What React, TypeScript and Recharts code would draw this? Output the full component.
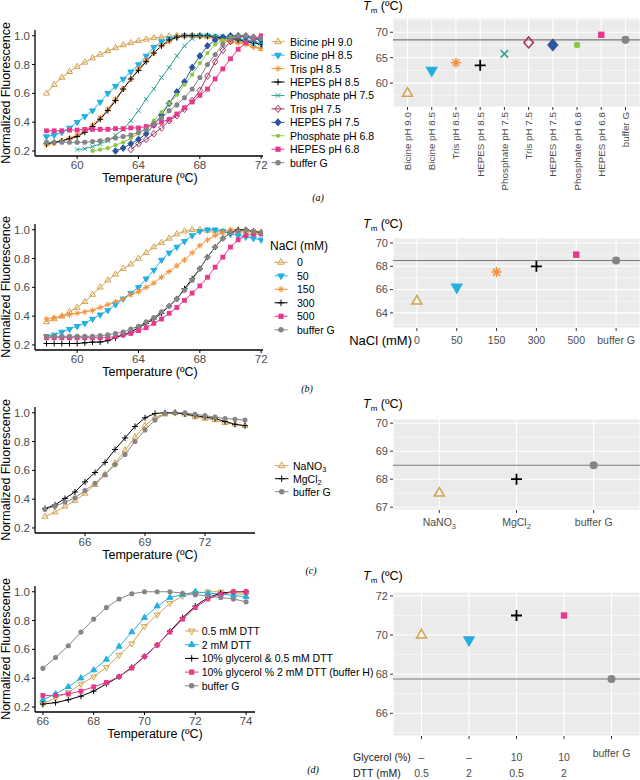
import {
  LineChart,
  Line,
  ScatterChart,
  Scatter,
  XAxis,
  YAxis,
  CartesianGrid,
  ReferenceLine,
  Legend,
} from 'recharts';

const FONT = '"Liberation Sans", Arial, Helvetica, sans-serif';
const INK = '#4D4D4D';

const TAN = '#D3A24E';
const CYAN = '#25AFE2';
const ORANGE = '#F5903B';
const BLACK = '#000000';
const TEAL = '#2EA597';
const MAROON = '#A3305F';
const BLUE = '#2A55A0';
const GREEN = '#8DC63F';
const PINK = '#E8378C';
const GREY = '#858585';

// ---- (a) buffer / pH screen ----
const tempsA = [58, 58.5, 59, 59.5, 60, 60.5, 61, 61.5, 62, 62.5, 63, 63.5, 64, 64.5, 65, 65.5, 66, 66.5, 67, 67.5, 68, 68.5, 69, 69.5, 70, 70.5, 71, 71.5, 72];
const namesA = ['Bicine pH 9.0', 'Bicine pH 8.5', 'Tris pH 8.5', 'HEPES pH 8.5', 'Phosphate pH 7.5', 'Tris pH 7.5', 'HEPES pH 7.5', 'Phosphate pH 6.8', 'HEPES pH 6.8', 'buffer G'];
const bicine90 = [0.6, 0.66, 0.71, 0.75, 0.785, 0.815, 0.845, 0.87, 0.895, 0.915, 0.935, 0.95, 0.965, 0.975, 0.985, 0.99, 0.995, 1.0, 1.0, 1.0, 1.0, 0.995, 0.99, 0.98, 0.97, 0.96, 0.95, 0.93, 0.91];
const bicine85 = [0.3, 0.31, 0.33, 0.36, 0.4, 0.44, 0.48, 0.54, 0.6, 0.65, 0.7, 0.75, 0.8, 0.86, 0.92, 0.96, 0.98, 0.99, 1.0, 1.0, 1.0, 1.0, 0.99, 0.985, 0.98, 0.97, 0.96, 0.95, 0.94];
const tris85 = [0.24, 0.255, 0.27, 0.29, 0.31, 0.34, 0.38, 0.43, 0.49, 0.56, 0.63, 0.7, 0.77, 0.83, 0.88, 0.93, 0.96, 0.99, 1.0, 1.0, 0.995, 0.99, 0.98, 0.97, 0.96, 0.95, 0.94, 0.92, 0.91];
const hepes85 = [0.25, 0.26, 0.27, 0.285, 0.3, 0.33, 0.37, 0.42, 0.48, 0.55, 0.63, 0.7, 0.76, 0.82, 0.88, 0.93, 0.97, 0.99, 1.0, 1.0, 1.0, 1.0, 0.99, 0.985, 0.98, 0.97, 0.96, 0.95, 0.94];
// the shorter runs start later and all end at 72
const phos75 = [0.21, 0.215, 0.23, 0.25, 0.27, 0.31, 0.35, 0.41, 0.48, 0.56, 0.63, 0.71, 0.78, 0.86, 0.93, 0.98, 1.0, 1.0, 1.0, 0.995, 0.99, 0.98, 0.97, 0.96, 0.95];
const tris75 = [0.21, 0.25, 0.28, 0.32, 0.36, 0.41, 0.445, 0.49, 0.55, 0.62, 0.72, 0.82, 0.9, 0.96, 0.99, 1.0, 0.99, 0.98];
const hepes75 = [0.2, 0.22, 0.25, 0.28, 0.32, 0.38, 0.45, 0.53, 0.61, 0.68, 0.78, 0.86, 0.93, 0.97, 0.99, 1.0, 1.0, 0.99, 0.98, 0.97];
const phos68 = [0.2, 0.21, 0.22, 0.24, 0.26, 0.29, 0.32, 0.36, 0.41, 0.47, 0.53, 0.59, 0.66, 0.73, 0.81, 0.88, 0.94, 0.97, 0.99, 1.0, 1.0, 0.99, 0.98];
const hepes68 = [0.34, 0.34, 0.34, 0.345, 0.345, 0.35, 0.35, 0.35, 0.35, 0.355, 0.355, 0.36, 0.36, 0.37, 0.38, 0.4, 0.42, 0.457, 0.5, 0.54, 0.586, 0.63, 0.7, 0.77, 0.84, 0.906, 0.95, 0.98, 1.0];
const bufferGA = [0.26, 0.26, 0.26, 0.26, 0.26, 0.26, 0.265, 0.27, 0.28, 0.29, 0.3, 0.31, 0.33, 0.35, 0.39, 0.43, 0.48, 0.52, 0.57, 0.63, 0.71, 0.8, 0.87, 0.94, 0.98, 1.0, 1.0, 0.99, 0.98];
const curvesA = [bicine90, bicine85, tris85, hepes85, phos75, tris75, hepes75, phos68, hepes68, bufferGA];
const tmA = [58, 62.5, 64, 63.5, 65.75, 68, 67.5, 67.5, 69.5, 68.5];
const refA = 68.5;

// ---- (b) NaCl ----
const tempsB = tempsA;
const namesB = ['0', '50', '150', '300', '500', 'buffer G'];
const nacl0 = [0.36, 0.38, 0.4, 0.43, 0.46, 0.5, 0.55, 0.6, 0.65, 0.69, 0.73, 0.76, 0.8, 0.84, 0.88, 0.91, 0.94, 0.97, 0.99, 1.0, 1.0, 0.995, 0.99, 0.99, 0.99, 0.99, 0.99, 0.98, 0.98];
const nacl50 = [0.26, 0.27, 0.29, 0.31, 0.33, 0.35, 0.38, 0.41, 0.44, 0.48, 0.52, 0.56, 0.6, 0.66, 0.72, 0.79, 0.84, 0.88, 0.92, 0.96, 0.99, 1.0, 1.0, 0.99, 0.97, 0.96, 0.95, 0.94, 0.93];
const nacl150 = [0.38, 0.39, 0.4, 0.41, 0.42, 0.43, 0.44, 0.46, 0.48, 0.5, 0.52, 0.55, 0.57, 0.6, 0.63, 0.67, 0.71, 0.75, 0.79, 0.84, 0.89, 0.93, 0.96, 0.98, 1.0, 1.0, 0.99, 0.99, 0.98];
const nacl300 = [0.21, 0.21, 0.21, 0.21, 0.21, 0.215, 0.22, 0.22, 0.23, 0.25, 0.27, 0.29, 0.32, 0.35, 0.38, 0.42, 0.47, 0.52, 0.59, 0.66, 0.73, 0.81, 0.88, 0.94, 0.98, 1.0, 1.0, 0.99, 0.98];
const nacl500 = [0.25, 0.25, 0.25, 0.25, 0.25, 0.25, 0.25, 0.25, 0.25, 0.26, 0.27, 0.28, 0.3, 0.32, 0.35, 0.38, 0.42, 0.46, 0.51, 0.56, 0.61, 0.67, 0.74, 0.81, 0.88, 0.93, 0.96, 0.97, 0.97];
const bufferGB = [0.26, 0.26, 0.26, 0.26, 0.26, 0.26, 0.26, 0.265, 0.27, 0.28, 0.29, 0.31, 0.33, 0.36, 0.39, 0.43, 0.47, 0.52, 0.58, 0.65, 0.73, 0.81, 0.88, 0.94, 0.98, 0.99, 1.0, 0.99, 0.98];
const curvesB = [nacl0, nacl50, nacl150, nacl300, nacl500, bufferGB];
const tmB = [65, 66.2, 67.5, 68, 69, 68.5];
const refB = 68.5;

// ---- (c) anions / cations ----
const tempsC = [64, 64.5, 65, 65.5, 66, 66.5, 67, 67.5, 68, 68.5, 69, 69.5, 70, 70.5, 71, 71.5, 72, 72.5, 73, 73.5, 74];
const namesC = ['NaNO3', 'MgCl2', 'buffer G'];
const nano3 = [0.28, 0.31, 0.35, 0.39, 0.44, 0.5, 0.57, 0.65, 0.74, 0.83, 0.91, 0.97, 0.99, 1.0, 0.99, 0.97, 0.96, 0.95, 0.93, 0.92, 0.91];
const mgcl2 = [0.335, 0.36, 0.405, 0.45, 0.52, 0.585, 0.655, 0.745, 0.825, 0.905, 0.965, 0.995, 1.0, 1.0, 0.99, 0.98, 0.97, 0.96, 0.94, 0.92, 0.91];
const bufferGC = [0.33, 0.35, 0.38, 0.41, 0.46, 0.51, 0.57, 0.64, 0.71, 0.8, 0.88, 0.95, 0.995, 1.0, 1.0, 0.99, 0.98, 0.97, 0.96, 0.955, 0.95];
const curvesC = [nano3, mgcl2, bufferGC];
const tmC = [67.5, 68, 68.5];
const refC = 68.5;

// ---- (d) DTT / glycerol ----
const tempsD = [66, 66.5, 67, 67.5, 68, 68.5, 69, 69.5, 70, 70.5, 71, 71.5, 72, 72.5, 73, 73.5, 74];
const namesD = ['0.5 mM DTT', '2 mM DTT', '10% glycerol & 0.5 mM DTT', '10% glycerol % 2 mM DTT (buffer H)', 'buffer G'];
const dtt05 = [0.22, 0.265, 0.3, 0.36, 0.41, 0.475, 0.56, 0.64, 0.76, 0.84, 0.92, 0.97, 0.99, 1.0, 1.0, 0.99, 0.98];
const dtt2 = [0.25, 0.29, 0.34, 0.4, 0.456, 0.53, 0.62, 0.72, 0.82, 0.9, 0.96, 0.98, 1.0, 0.99, 0.985, 0.975, 0.965];
const gly05 = [0.22, 0.23, 0.25, 0.275, 0.31, 0.36, 0.41, 0.475, 0.55, 0.63, 0.725, 0.82, 0.9, 0.96, 0.99, 1.0, 1.0];
const gly2 = [0.28, 0.28, 0.29, 0.31, 0.34, 0.37, 0.41, 0.47, 0.55, 0.63, 0.72, 0.81, 0.89, 0.95, 0.98, 1.0, 1.0];
const bufferGD = [0.468, 0.543, 0.625, 0.72, 0.81, 0.89, 0.95, 0.986, 1.0, 1.0, 1.0, 0.99, 0.98, 0.97, 0.96, 0.95, 0.93];
const curvesD = [dtt05, dtt2, gly05, gly2, bufferGD];
const tmD = [70, 69.75, 71, 71, 67.75];
const refD = 67.75;
const glycerolRow = ['–', '–', '10', '10'];
const dttRow = ['0.5', '2', '0.5', '2'];

type Shape = 'triUp' | 'triUpOpen' | 'triDown' | 'triDownOpen' | 'asterisk' | 'plus' | 'cross' | 'diamond' | 'diamondOpen' | 'circle' | 'square';
type Look = { color: string; shape: Shape; small?: boolean };

const looksA: Look[] = [
  { color: TAN, shape: 'triUpOpen' },
  { color: CYAN, shape: 'triDown' },
  { color: ORANGE, shape: 'asterisk' },
  { color: BLACK, shape: 'plus' },
  { color: TEAL, shape: 'cross' },
  { color: MAROON, shape: 'diamondOpen' },
  { color: BLUE, shape: 'diamond' },
  { color: GREEN, shape: 'circle', small: true },
  { color: PINK, shape: 'square' },
  { color: GREY, shape: 'circle' },
];
const looksB: Look[] = [
  { color: TAN, shape: 'triUpOpen' },
  { color: CYAN, shape: 'triDown' },
  { color: ORANGE, shape: 'asterisk' },
  { color: BLACK, shape: 'plus' },
  { color: PINK, shape: 'square' },
  { color: GREY, shape: 'circle' },
];
const looksC: Look[] = [
  { color: TAN, shape: 'triUpOpen' },
  { color: BLACK, shape: 'plus' },
  { color: GREY, shape: 'circle' },
];
const looksDCurve: Look[] = [
  { color: TAN, shape: 'triDownOpen' },
  { color: CYAN, shape: 'triUp' },
  { color: BLACK, shape: 'plus' },
  { color: PINK, shape: 'square' },
  { color: GREY, shape: 'circle' },
];
const looksDTm: Look[] = [
  { color: TAN, shape: 'triUpOpen' },
  { color: CYAN, shape: 'triDown' },
  { color: BLACK, shape: 'plus' },
  { color: PINK, shape: 'square' },
  { color: GREY, shape: 'circle' },
];

function Marker({ shape, x, y, size, color, sw }: { shape: Shape; x: number; y: number; size: number; color: string; sw: number }) {
  const h = size / 2;
  switch (shape) {
    case 'triUp':
    case 'triUpOpen': {
      const pts = `${x},${y - h * 1.15} ${x + h},${y + h * 0.58} ${x - h},${y + h * 0.58}`;
      return <polygon points={pts} fill={shape === 'triUp' ? color : 'none'} stroke={color} strokeWidth={sw} />;
    }
    case 'triDown':
    case 'triDownOpen': {
      const pts = `${x},${y + h * 1.15} ${x + h},${y - h * 0.58} ${x - h},${y - h * 0.58}`;
      return <polygon points={pts} fill={shape === 'triDown' ? color : 'none'} stroke={color} strokeWidth={sw} />;
    }
    case 'plus':
      return <path d={`M${x - h},${y}H${x + h}M${x},${y - h}V${y + h}`} stroke={color} strokeWidth={sw} />;
    case 'cross': {
      const d = h * 0.75;
      return <path d={`M${x - d},${y - d}L${x + d},${y + d}M${x - d},${y + d}L${x + d},${y - d}`} stroke={color} strokeWidth={sw} />;
    }
    case 'asterisk': {
      const d = h * 0.7;
      return (
        <path
          d={`M${x - h},${y}H${x + h}M${x},${y - h}V${y + h}M${x - d},${y - d}L${x + d},${y + d}M${x - d},${y + d}L${x + d},${y - d}`}
          stroke={color}
          strokeWidth={sw}
        />
      );
    }
    case 'diamond':
    case 'diamondOpen': {
      const pts = `${x},${y - h * 1.1} ${x + h * 0.95},${y} ${x},${y + h * 1.1} ${x - h * 0.95},${y}`;
      return <polygon points={pts} fill={shape === 'diamond' ? color : 'none'} stroke={color} strokeWidth={sw} />;
    }
    case 'square':
      return <rect x={x - h * 0.8} y={y - h * 0.8} width={h * 1.6} height={h * 1.6} fill={color} />;
    default:
      return <circle cx={x} cy={y} r={h * 0.85} fill={color} />;
  }
}

// label text with chemical subscripts (NaNO3 -> NaNO₃)
const chem = (label: string) =>
  label.split(/(\d)/).filter(Boolean).map((part, i) =>
    /\d/.test(part) ? (
      <tspan key={i} dy={3} fontSize="70%">{part}</tspan>
    ) : (
      <tspan key={i}>{part}</tspan>
    ),
  );

const pairUp = (temps: number[], vals: number[]) =>
  vals.map((v, i) => ({ t: temps[temps.length - vals.length + i], v }));

function KeyBox({ labels, looks, y0, step, x0, x1, mx, tx, title, titleY, subs }: any) {
  return (
    <svg width={200} height={170} style={{ overflow: 'visible', display: 'block' }}>
      {title && (
        <text x={0} y={titleY} fontSize={12} fill="#000">
          {title}
        </text>
      )}
      {labels.map((lab: string, i: number) => {
        const y = y0 + i * step;
        const lk: Look = looks[i];
        return (
          <g key={lab}>
            <line x1={x0} x2={x1} y1={y} y2={y} stroke={lk.color} strokeWidth={1} />
            <Marker shape={lk.shape} x={mx} y={y} size={lk.small ? 5 : 6.5} color={lk.color} sw={1} />
            <text x={tx} y={y} dominantBaseline="central" fontSize={10.5} fill="#000">
              {subs ? chem(lab) : lab}
            </text>
          </g>
        );
      })}
    </svg>
  );
}

function CurveChart({ temps, curves, looks, xDomain, xTicks, plotRight, titleX, keyAt, keyBox }: any) {
  return (
    <LineChart width={330} height={176} margin={{ top: 10, right: 330 - plotRight, bottom: 0, left: 0 }}>
      <XAxis
        type="number"
        dataKey="t"
        domain={xDomain}
        ticks={xTicks}
        allowDataOverflow
        interval={0}
        height={40}
        tickSize={3}
        tick={{ fontSize: 11.5, fill: INK }}
        axisLine={{ stroke: '#000', strokeWidth: 1.3 }}
        tickLine={{ stroke: '#000' }}
        label={() => (
          <text x={titleX} y={162} textAnchor="middle" fontSize={12.5} fill="#000">
            Temperature (ºC)
          </text>
        )}
      />
      <YAxis
        type="number"
        domain={[0.165, 1.04]}
        ticks={[0.2, 0.4, 0.6, 0.8, 1.0]}
        tickFormatter={(v: number) => v.toFixed(1)}
        allowDataOverflow
        interval={0}
        width={35}
        tickSize={3}
        tick={{ fontSize: 11.5, fill: INK }}
        axisLine={{ stroke: '#000', strokeWidth: 1.3 }}
        tickLine={{ stroke: '#000' }}
        label={() => (
          <text transform="translate(6,73) rotate(-90)" textAnchor="middle" dominantBaseline="central" fontSize={12.5} fill="#000">
            Normalized Fluorescence
          </text>
        )}
      />
      {curves.map((vals: number[], k: number) => (
        <Line
          key={k}
          data={pairUp(temps, vals)}
          dataKey="v"
          type="linear"
          stroke={looks[k].color}
          strokeWidth={1}
          activeDot={false}
          isAnimationActive={false}
          dot={(p: any) => (
            <Marker key={`d${k}-${p.index}`} shape={looks[k].shape} x={p.cx} y={p.cy} size={looks[k].small ? 5 : 6} color={looks[k].color} sw={1} />
          )}
        />
      ))}
      <Legend
        layout="vertical"
        align="center"
        verticalAlign="middle"
        wrapperStyle={{ left: keyAt[0], top: keyAt[1], width: 200, height: 170 }}
        content={() => keyBox}
      />
    </LineChart>
  );
}

function TmTitle({ y }: { y: number }) {
  return (
    <text x={33} y={y} fontSize={12.5} fill="#000">
      <tspan fontStyle="italic">T</tspan>
      <tspan fontSize={8} dy={3}>m</tspan>
      <tspan dy={-3}> (ºC)</tspan>
    </text>
  );
}

function TmChart({ cats, tm, looks, line, yDomain, yTicks, minor, height, marginTop, xHeight, tick, titleY, xLabel }: any) {
  const rows = cats.map((name: string, i: number) => ({ name, tm: tm[i] }));
  const pad = (247 * 0.1) / (cats.length + 0.2);
  return (
    <ScatterChart width={310} height={height} margin={{ top: marginTop, right: 0, bottom: 0, left: 0 }}>
      <CartesianGrid fill="#EBEBEB" fillOpacity={1} stroke="#FFFFFF" strokeWidth={1.1} />
      {minor.map((v: number) => (
        <ReferenceLine key={v} y={v} stroke="#FFFFFF" strokeWidth={0.5} />
      ))}
      <ReferenceLine y={line} stroke="#7A7A7A" strokeWidth={1.1} />
      <XAxis
        type="category"
        dataKey="name"
        allowDuplicatedCategory={false}
        padding={{ left: pad, right: pad }}
        height={xHeight}
        interval={0}
        axisLine={false}
        tickLine={{ stroke: '#333' }}
        tickSize={3}
        tick={tick}
        label={xLabel}
      />
      <YAxis
        type="number"
        dataKey="tm"
        domain={yDomain}
        ticks={yTicks}
        allowDataOverflow
        interval={0}
        width={63}
        axisLine={false}
        tickLine={{ stroke: '#333' }}
        tickSize={3}
        tick={{ fontSize: 11, fill: INK }}
        label={() => <TmTitle y={titleY} />}
      />
      <Scatter
        data={rows}
        isAnimationActive={false}
        shape={(p: any) => {
          const lk: Look = looks[cats.indexOf(p.payload.name)];
          const big = lk.shape === 'circle' ? (lk.small ? 7.5 : 9.5) : lk.shape === 'square' ? 8 : lk.shape === 'plus' ? 11 : 10;
          const sw = lk.shape === 'plus' ? 1.8 : 1.5;
          return <Marker shape={lk.shape} x={p.cx} y={p.cy} size={big} color={lk.color} sw={sw} />;
        }}
      />
    </ScatterChart>
  );
}

const rotTick = (p: any) => (
  <text x={p.x} y={p.y} transform={`rotate(-90, ${p.x}, ${p.y})`} textAnchor="end" dominantBaseline="central" fontSize={9.8} fill={INK}>
    {p.payload.value}
  </text>
);

const flatTick = (p: any) => (
  <text x={p.x} y={p.y + 11} textAnchor="middle" fontSize={10.5} fill={INK}>
    {chem(String(p.payload.value))}
  </text>
);

const plainTick = (p: any) => (
  <text x={p.x} y={p.y + 11} textAnchor="middle" fontSize={10.5} fill={INK}>
    {p.payload.value}
  </text>
);

const additiveTick = (p: any) => {
  const i = namesD.indexOf(p.payload.value);
  if (i === namesD.length - 1) {
    return (
      <text x={p.x} y={p.y + 15.5} textAnchor="middle" fontSize={10.5} fill={INK}>
        buffer G
      </text>
    );
  }
  return (
    <g>
      <text x={p.x} y={p.y + 20} textAnchor="middle" fontSize={10.5} fill={INK}>
        {glycerolRow[i]}
      </text>
      <text x={p.x} y={p.y + 36} textAnchor="middle" fontSize={10.5} fill={INK}>
        {dttRow[i]}
      </text>
    </g>
  );
};

function Place({ left, top, children }: any) {
  return <div style={{ position: 'absolute', left, top }}>{children}</div>;
}

function Caption({ x, y, text }: { x: number; y: number; text: string }) {
  return (
    <div
      style={{
        position: 'absolute',
        left: x,
        top: y,
        transform: 'translate(-50%, -50%)',
        fontFamily: '"Liberation Serif", serif',
        fontStyle: 'italic',
        fontSize: 10,
      }}
    >
      {text}
    </div>
  );
}

export default function App() {
  return (
    <div style={{ position: 'absolute', left: 0, top: 0, width: 640, height: 780, background: '#fff', overflow: 'hidden', fontFamily: FONT }}>
      {/* (a) */}
      <Place left={0} top={20}>
        <CurveChart
          temps={tempsA}
          curves={curvesA}
          looks={looksA}
          xDomain={[57.25, 72.12]}
          xTicks={[60, 64, 68, 72]}
          plotRight={263}
          titleX={150}
          keyAt={[265, 14]}
          keyBox={<KeyBox labels={namesA} looks={looksA} y0={7.7} step={13.44} x0={6.5} x1={19.5} mx={13} tx={25} />}
        />
      </Place>
      <Place left={330} top={0}>
        <TmChart
          cats={namesA}
          tm={tmA}
          looks={looksA}
          line={refA}
          yDomain={[55.3, 72.8]}
          yTicks={[60, 65, 70]}
          minor={[57.5, 62.5, 67.5, 72.5]}
          height={195}
          marginTop={18}
          xHeight={88}
          tick={rotTick}
          titleY={10}
        />
      </Place>
      <Caption x={318} y={197} text="(a)" />

      {/* (b) */}
      <Place left={0} top={214}>
        <CurveChart
          temps={tempsB}
          curves={curvesB}
          looks={looksB}
          xDomain={[57.25, 72.12]}
          xTicks={[60, 64, 68, 72]}
          plotRight={263}
          titleX={150}
          keyAt={[270, 22]}
          keyBox={<KeyBox labels={namesB} looks={looksB} title="NaCl (mM)" titleY={14} y0={26.3} step={13.5} x0={4.5} x1={17.5} mx={11} tx={27} />}
        />
      </Place>
      <Place left={330} top={215}>
        <TmChart
          cats={namesB}
          tm={tmB}
          looks={looksB}
          line={refB}
          yDomain={[62.7, 70.43]}
          yTicks={[64, 66, 68, 70]}
          minor={[63, 65, 67, 69]}
          height={148}
          marginTop={23}
          xHeight={35}
          tick={plainTick}
          titleY={13}
          xLabel={() => (
            <text x={82} y={129.5} textAnchor="end" fontSize={13} fill="#000">
              NaCl (mM)
            </text>
          )}
        />
      </Place>
      <Caption x={307} y={388} text="(b)" />

      {/* (c) */}
      <Place left={0} top={397}>
        <CurveChart
          temps={tempsC}
          curves={curvesC}
          looks={looksC}
          xDomain={[63.5, 74.5]}
          xTicks={[66, 69, 72]}
          plotRight={255}
          titleX={150}
          keyAt={[270, 59]}
          keyBox={<KeyBox labels={namesC} looks={looksC} y0={9.7} step={13} x0={5} x1={18.5} mx={11.7} tx={23} subs />}
        />
      </Place>
      <Place left={330} top={395}>
        <TmChart
          cats={namesC}
          tm={tmC}
          looks={looksC}
          line={refC}
          yDomain={[66.9, 70.15]}
          yTicks={[67, 68, 69, 70]}
          minor={[67.5, 68.5, 69.5]}
          height={145}
          marginTop={24}
          xHeight={30}
          tick={flatTick}
          titleY={13}
        />
      </Place>
      <Caption x={311} y={570} text="(c)" />

      {/* (d) */}
      <Place left={0} top={576}>
        <CurveChart
          temps={tempsD}
          curves={curvesD}
          looks={looksDCurve}
          xDomain={[65.69, 74.35]}
          xTicks={[66, 68, 70, 72, 74]}
          plotRight={255}
          titleX={155}
          keyAt={[180, 46]}
          keyBox={<KeyBox labels={namesD} looks={looksDCurve} y0={9} step={13.7} x0={5} x1={18.5} mx={11.7} tx={21.7} />}
        />
      </Place>
      <Place left={330} top={560}>
        <TmChart
          cats={namesD}
          tm={tmD}
          looks={looksDTm}
          line={refD}
          yDomain={[64.84, 72.2]}
          yTicks={[66, 68, 70, 72]}
          minor={[65, 67, 69, 71]}
          height={220}
          marginTop={32}
          xHeight={44}
          tick={additiveTick}
          titleY={20}
          xLabel={() => (
            <g>
              <text x={23} y={201} fontSize={10.5} fill="#222">
                Glycerol (%)
              </text>
              <text x={23} y={217} fontSize={10.5} fill="#222">
                DTT (mM)
              </text>
            </g>
          )}
        />
      </Place>
      <Caption x={313} y={769} text="(d)" />
    </div>
  );
}
